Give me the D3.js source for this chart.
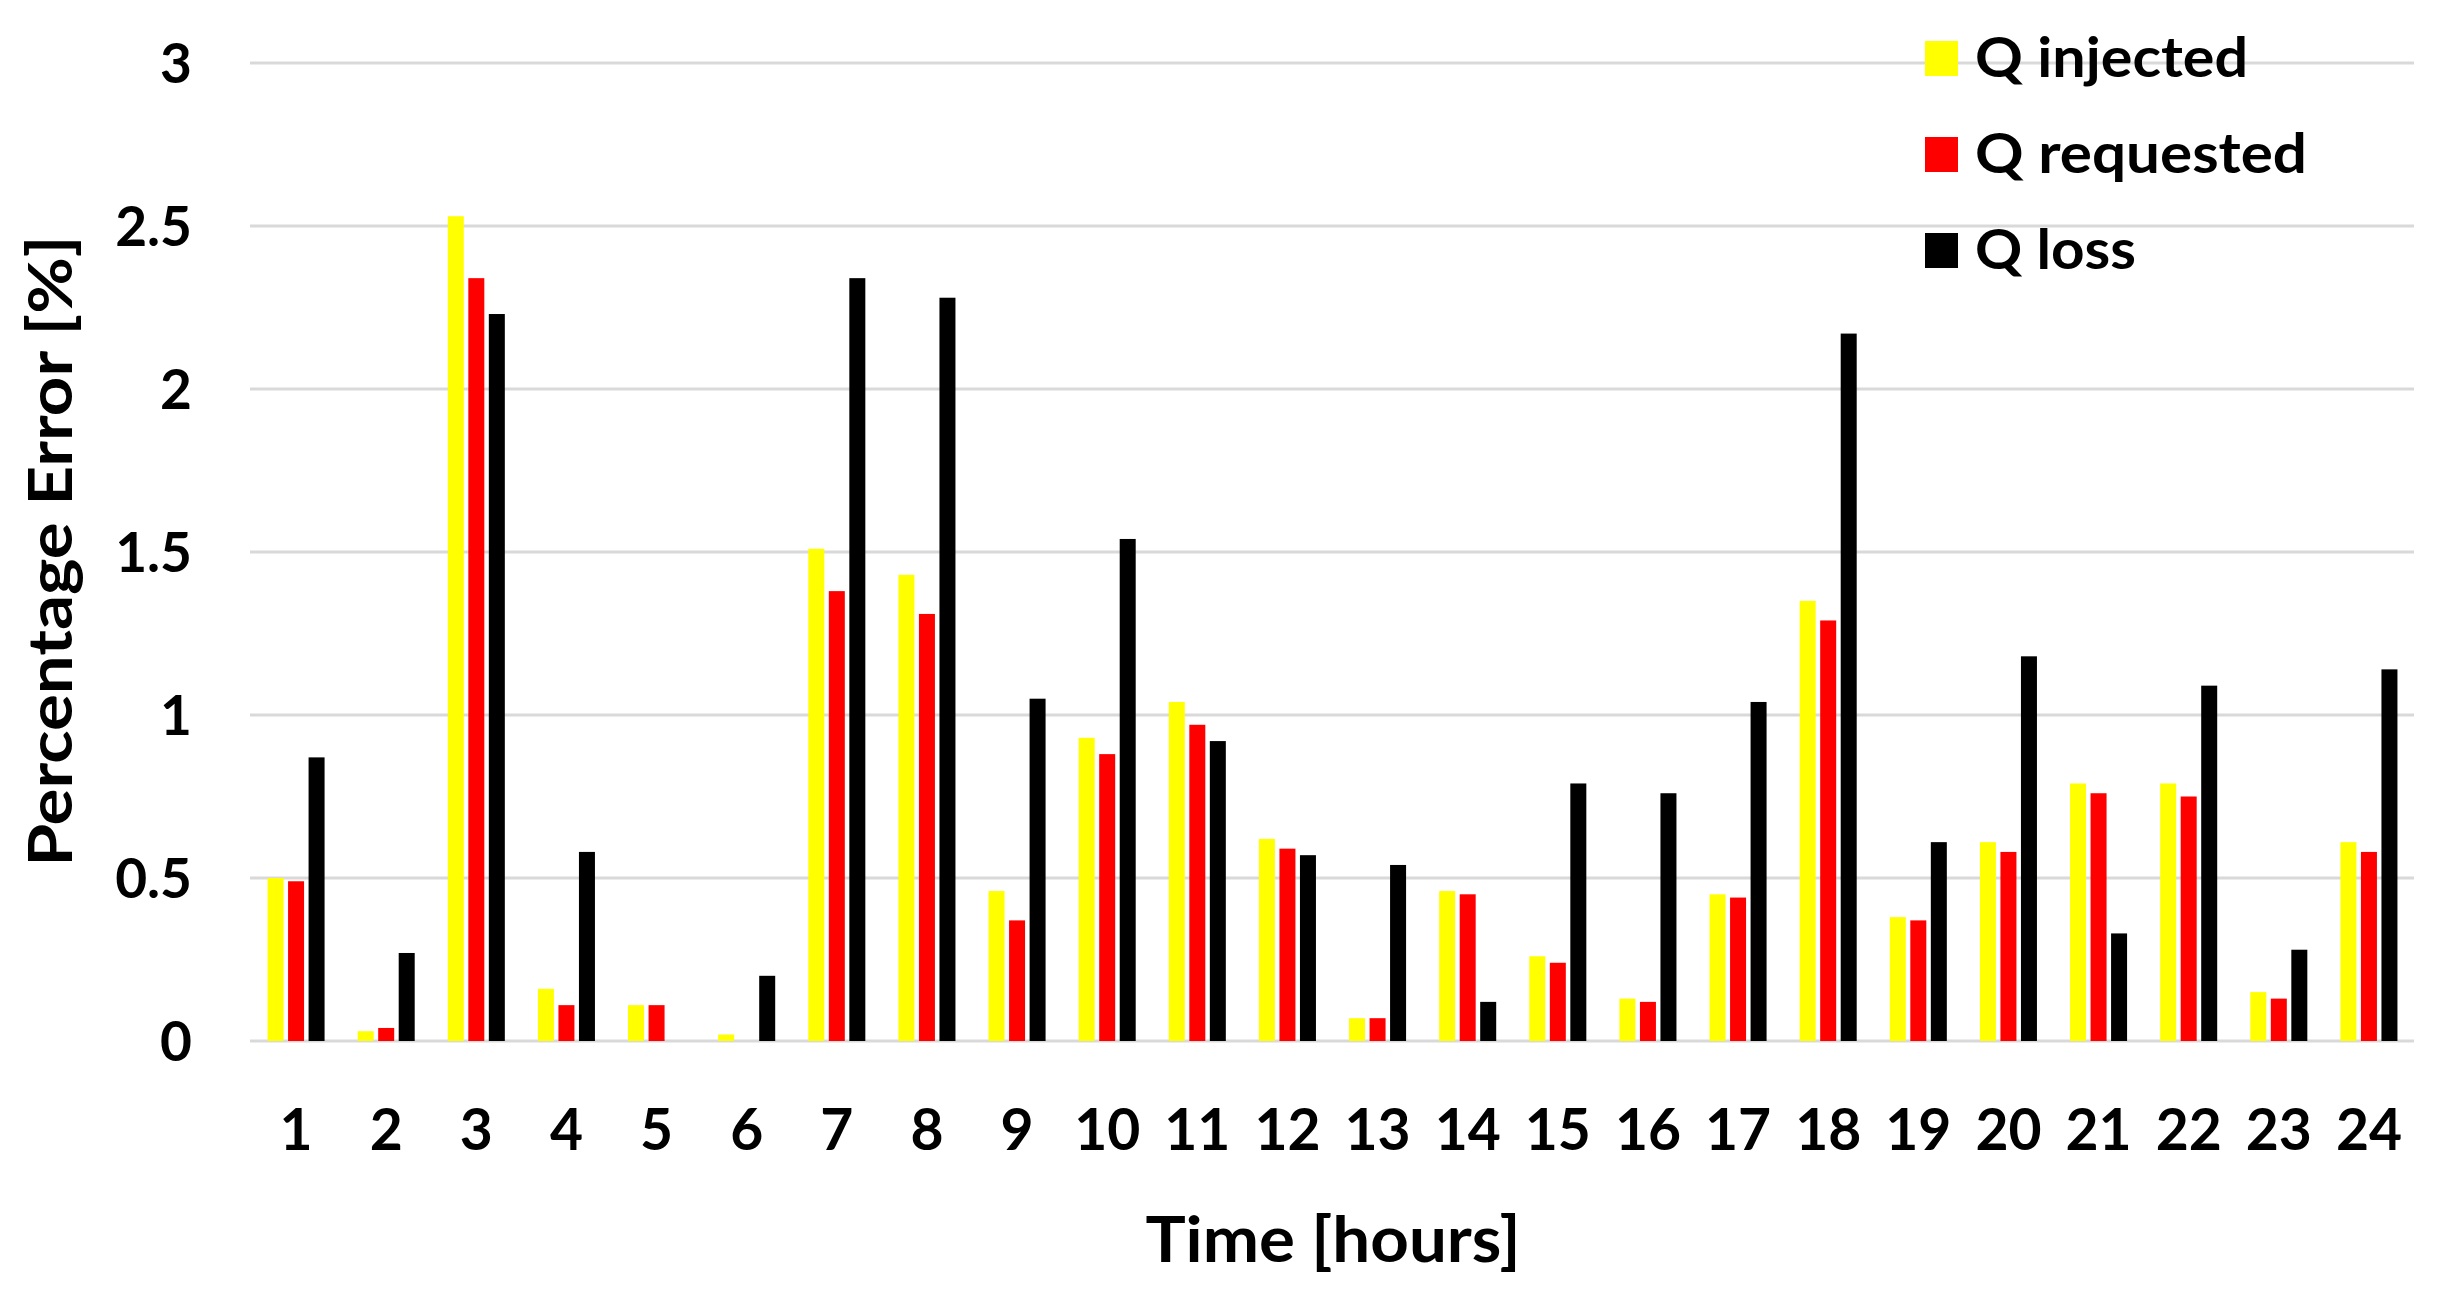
<!DOCTYPE html>
<html><head><meta charset="utf-8">
<script src="https://cdn.jsdelivr.net/npm/d3@7"></script>
<style>
html,body{margin:0;padding:0;background:#fff;}
svg{display:block;}
text{font-family:Lato,"Open Sans",sans-serif;font-weight:700;fill:#000;}
</style>
</head><body>
<svg id="chart" width="2437" height="1299"></svg>
<script>
const hours = ["1","2","3","4","5","6","7","8","9","10","11","12","13","14","15","16","17","18","19","20","21","22","23","24"];
const seriesNames = ["Q injected","Q requested","Q loss"];
const qInjected  = [0.50,0.03,2.53,0.16,0.11,0.02,1.51,1.43,0.46,0.93,1.04,0.62,0.07,0.46,0.26,0.13,0.45,1.35,0.38,0.61,0.79,0.79,0.15,0.61];
const qRequested = [0.49,0.04,2.34,0.11,0.11,0.00,1.38,1.31,0.37,0.88,0.97,0.59,0.07,0.45,0.24,0.12,0.44,1.29,0.37,0.58,0.76,0.75,0.13,0.58];
const qLoss      = [0.87,0.27,2.23,0.58,0.00,0.20,2.34,2.28,1.05,1.54,0.92,0.57,0.54,0.12,0.79,0.76,1.04,2.17,0.61,1.18,0.33,1.09,0.28,1.14];
const yTickValues = [0,0.5,1,1.5,2,2.5,3];
const seriesColors = ["#ffff00","#ff0000","#000000"];
const xTitle = "Time [hours]";
const yTitle = "Percentage Error [%]";

const seriesValues = [qInjected, qRequested, qLoss];
const rows = hours.map((h,i)=>({hour:h, vals: seriesNames.map((s,k)=>({key:s, color:seriesColors[k], value:seriesValues[k][i]}))}));

const svg = d3.select("#chart");
const plotLeft = 251, plotRight = 2414, plotTop = 63, plotBottom = 1041;

const x0 = d3.scaleBand().domain(hours).range([plotLeft, plotRight]).paddingInner(0).paddingOuter(0);
const x1 = d3.scaleBand().domain(seriesNames).range([0, x0.bandwidth()]).paddingInner(0.22).paddingOuter(0.807);
const y = d3.scaleLinear().domain([0,3]).range([plotBottom, plotTop]);
const color = d3.scaleOrdinal().domain(seriesNames).range(seriesColors);

// gridlines
svg.append("g").selectAll("line").data(yTickValues).join("line")
  .attr("x1", plotLeft-1).attr("x2", plotRight)
  .attr("y1", d=>y(d)).attr("y2", d=>y(d))
  .attr("stroke", "#d9d9d9").attr("stroke-width", 3);

// bars
svg.append("g").selectAll("g").data(rows).join("g")
  .attr("transform", d=>`translate(${x0(d.hour)},0)`)
  .selectAll("rect").data(d=>d.vals).join("rect")
  .attr("x", d=>x1(d.key)).attr("width", x1.bandwidth())
  .attr("y", d=>y(d.value)).attr("height", d=>y(0)-y(d.value))
  .attr("fill", d=>color(d.key));

// y axis
const yAxis = svg.append("g").attr("transform", `translate(${plotLeft},0)`)
  .call(d3.axisLeft(y).tickValues(yTickValues).tickSize(0).tickPadding(59).tickFormat(d3.format("")));
yAxis.select(".domain").remove();
yAxis.selectAll("text").attr("font-size", 55).attr("dy", "0.36em")
  .style("font-family", "Lato").style("font-weight", 700);

// x axis
const xAxis = svg.append("g").attr("transform", `translate(0,${plotBottom})`)
  .call(d3.axisBottom(x0).tickSize(0));
xAxis.select(".domain").remove();
xAxis.selectAll("text").attr("font-size", 57).attr("y", 109).attr("dy", null)
  .style("font-family", "Lato").style("font-weight", 700);

// axis titles
svg.append("text").attr("x", 1333).attr("y", 1262).attr("text-anchor", "middle")
  .attr("font-size", 64).attr("textLength", 375).attr("lengthAdjust", "spacingAndGlyphs")
  .text(xTitle);
svg.append("text").attr("transform", "translate(72,551) rotate(-90)").attr("text-anchor", "middle")
  .attr("font-size", 62).attr("textLength", 631).attr("lengthAdjust", "spacingAndGlyphs")
  .text(yTitle);

// legend
const legendWidths = [273, 332, 161];
const leg = svg.append("g").selectAll("g").data(seriesNames).join("g")
  .attr("transform", (d,i)=>`translate(1925,${41 + i*96})`);
leg.append("rect").attr("width", 33).attr("height", 35).attr("fill", d=>color(d));
leg.append("text").attr("x", 50).attr("y", 36).attr("font-size", 56)
  .attr("textLength", (d,i)=>legendWidths[i]).attr("lengthAdjust", "spacingAndGlyphs")
  .text(d=>d);
</script>
</body></html>
